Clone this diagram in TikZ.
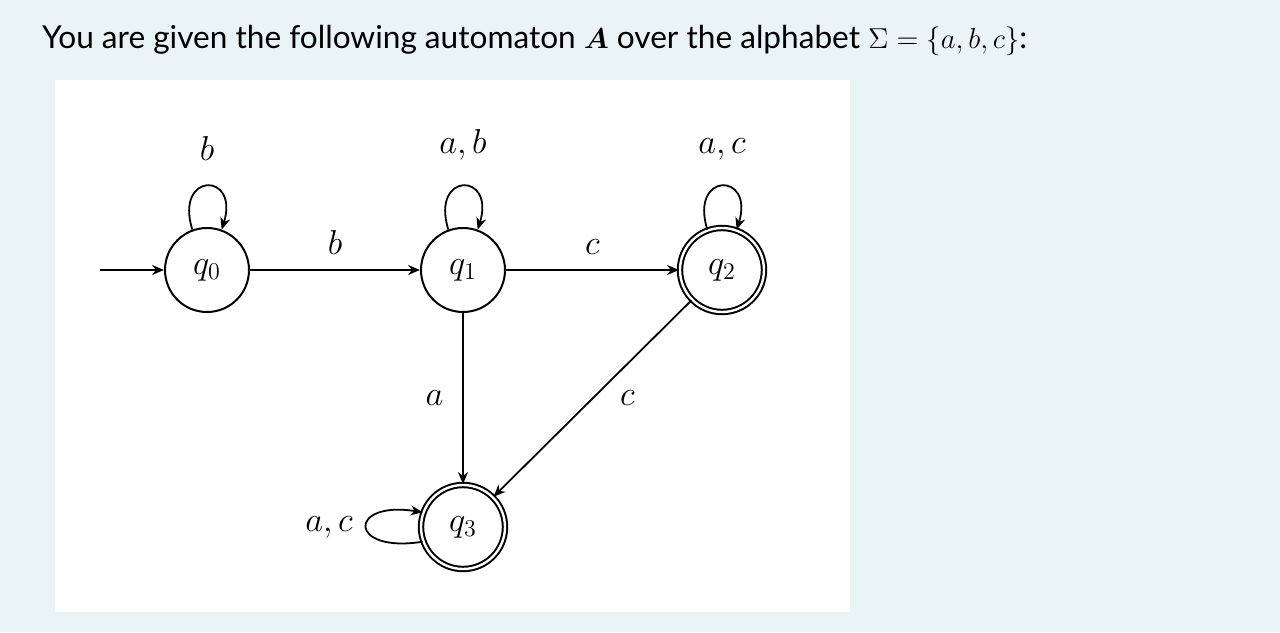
\documentclass[tikz,border=0pt]{standalone}
\usepackage{fontspec}
\setmainfont{Lato}
\usepackage{amsmath}
\usetikzlibrary{arrows.meta,positioning}
\definecolor{pagebg}{HTML}{EAF4F7}
\tikzset{
  state/.style={draw, circle, line width=1pt, minimum size=42pt, inner sep=0pt, font=\fontsize{18}{20}\selectfont},
  accept/.style={state, double, double distance=1.2pt},
  trans/.style={-{Stealth[length=6pt,width=5pt]}, line width=0.9pt},
  lbl/.style={font=\fontsize{18}{20}\selectfont},
}
\begin{document}
\begin{tikzpicture}[x=0.5pt,y=-0.5pt]
\fill[pagebg] (0,0) rectangle (1280,632);
\fill[white] (55,80) rectangle (850,612);
\useasboundingbox (0,0) rectangle (1280,632);
\node[anchor=west, font=\fontsize{15.8}{18}\selectfont] (title) at (35,40) {You are given the following automaton $\boldsymbol{A}$ over the alphabet $\Sigma=\{a,b,c\}$:};
% states
\node[state] (q0) at (207,270) {$q_0$};
\node[state] (q1) at (463,270) {$q_1$};
\node[accept] (q2) at (722,270) {$q_2$};
\node[accept] (q3) at (463,527) {$q_3$};
\coordinate (start) at (100,270);
% transitions
\draw[trans] (start) -- (q0);
\draw[trans] (q0) -- node[lbl, above=4pt] {$b$} (q1);
\draw[trans] (q1) -- node[lbl, above=4pt] {$c$} (q2);
\draw[trans] (q1) -- node[lbl, left=6pt] {$a$} (q3);
\draw[trans] (q2) -- node[lbl, right=10pt] {$c$} (q3);
% self loops
\foreach \s/\t in {q0/b, q1/{a,b}, q2/{a,c}}
  \draw[trans] (\s.110) .. controls +(-18,-58) and +(18,-58) .. node[lbl, above=9pt] {$\t$} (\s.70);
\draw[trans] (q3.200) .. controls +(-75,12) and +(-75,-12) .. node[lbl, left=3pt] {$a,c$} (q3.160);
\end{tikzpicture}
\end{document}
